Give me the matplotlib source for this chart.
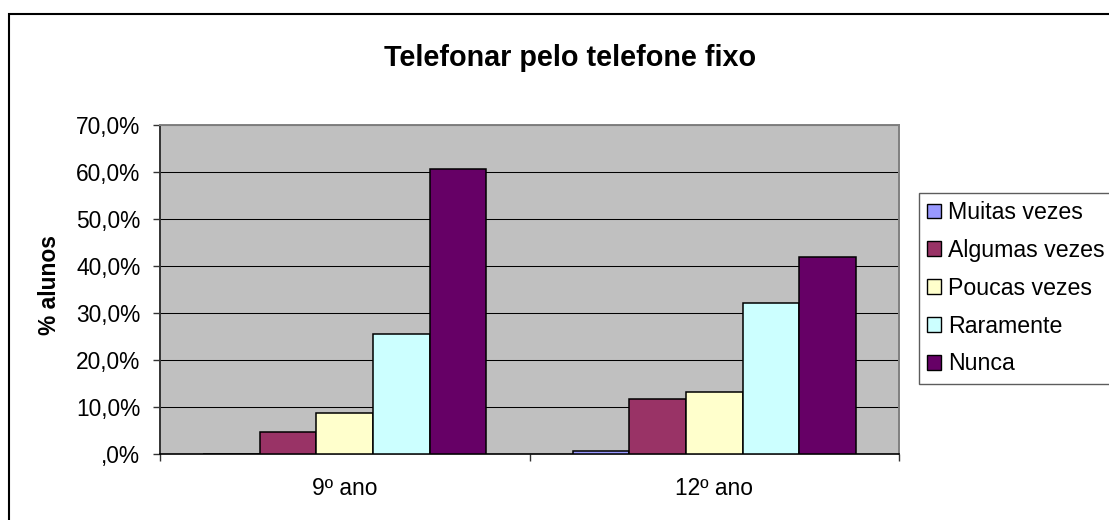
import matplotlib
matplotlib.use("Agg")
import matplotlib.pyplot as plt
import matplotlib.patches as mpatches
import numpy as np

# ---- data ----
categories = ["9º ano", "12º ano"]
series_names = ["Muitas vezes", "Algumas vezes", "Poucas vezes", "Raramente", "Nunca"]
muitas = [0.0, 0.7]
algumas = [4.6, 11.6]
poucas = [8.8, 13.1]
raramente = [25.6, 32.2]
nunca = [60.6, 42.0]
series_values = [muitas, algumas, poucas, raramente, nunca]
colors = ["#9999FF", "#993366", "#FFFFCC", "#CCFFFF", "#660066"]
yticks = [0, 10, 20, 30, 40, 50, 60, 70]
ytick_labels = [",0%", "10,0%", "20,0%", "30,0%", "40,0%", "50,0%", "60,0%", "70,0%"]
title = "Telefonar pelo telefone fixo"
ylabel = "% alunos"

plt.rcParams['font.family'] = ['Liberation Sans', 'DejaVu Sans']

W, H = 1109, 520
fig = plt.figure(figsize=(W / 100, H / 100), dpi=100)
fig.patch.set_facecolor("white")

# axes placement (pixels)
L, R, T, B = 160, 899, 125, 454
ax = fig.add_axes([L / W, 1 - B / H, (R - L) / W, (B - T) / H])
ax.set_facecolor("#C0C0C0")

x = np.arange(len(categories))
w = 0.153
for i, (name, vals, c) in enumerate(zip(series_names, series_values, colors)):
    ax.bar(x + (i - 2) * w, vals, width=w, color=c, edgecolor="black",
           linewidth=1.1, label=name, zorder=3)

ax.set_xlim(-0.5, len(categories) - 0.5)
ax.set_ylim(0, 70)
ax.set_yticks(yticks)
ax.set_yticklabels(ytick_labels, fontsize=16.4)
ax.yaxis.grid(True, color="black", linewidth=0.75, zorder=1)
ax.set_axisbelow(True)

ax.set_xticks(x)
ax.set_xticklabels(categories, fontsize=16.4)
ax.set_xticks(np.arange(-0.5, len(categories), 1.0), minor=True)
ax.tick_params(axis="x", which="major", length=0, pad=16.5)
ax.tick_params(axis="x", which="minor", length=5.2, width=1.0, color="#333333", direction="out")
ax.tick_params(axis="y", length=5.2, width=1.0, color="#333333", pad=9.0)

for s in ["top", "right"]:
    ax.spines[s].set_color("#808080")
    ax.spines[s].set_linewidth(1.4)
ax.spines["left"].set_color("#333333")
ax.spines["left"].set_linewidth(1.4)
ax.spines["bottom"].set_color("black")
ax.spines["bottom"].set_linewidth(1.2)

# title and y label
fig.text(570 / W, 1 - 66 / H, title, ha="center", va="baseline",
         fontsize=20.7, fontweight="bold")
fig.text(49 / W, 1 - 285 / H, ylabel, ha="center", va="center", rotation=90,
         fontsize=16.4, fontweight="bold")

# legend
handles = [mpatches.Patch(facecolor=c, edgecolor="black", linewidth=1.0) for c in colors]
leg = fig.legend(handles, series_names, loc="upper left",
                 bbox_to_anchor=(919 / W, 1 - 193 / H), bbox_transform=fig.transFigure,
                 fontsize=16.7, frameon=True, fancybox=False, borderpad=0.35,
                 labelspacing=0.64, handlelength=0.6, handleheight=0.6,
                 handletextpad=0.3, borderaxespad=0.0)
leg.get_frame().set_edgecolor("#333333")
leg.get_frame().set_linewidth(1.0)

# outer chart border (extends past right/bottom edges)
border = mpatches.Rectangle((9 / W, -0.2), 1.2, 1.2 - 14 / H, transform=fig.transFigure,
                            fill=False, edgecolor="black", linewidth=1.5)
fig.patches.append(border)

fig.savefig("out.png", dpi=100)
